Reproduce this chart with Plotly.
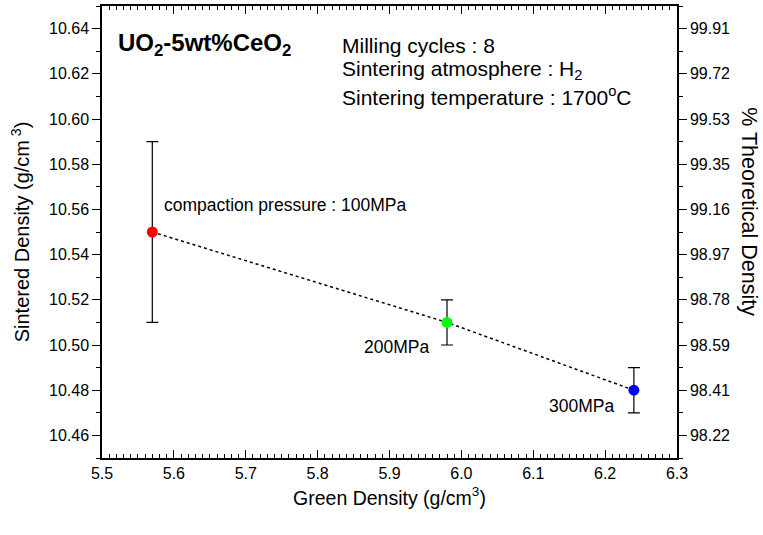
import plotly.graph_objects as go

green_density = [5.57, 5.98, 6.24]
sintered_density = [10.55, 10.51, 10.48]
err_plus = [0.04, 0.01, 0.01]
err_minus = [0.04, 0.01, 0.01]
point_colors = ["#ff0000", "#00ff00", "#0000ff"]
labels = ["compaction pressure : 100MPa", "200MPa", "300MPa"]

left_tickvals = [10.46, 10.48, 10.50, 10.52, 10.54, 10.56, 10.58, 10.60, 10.62, 10.64]
right_ticktext = ["98.22", "98.41", "98.59", "98.78", "98.97", "99.16", "99.35", "99.53", "99.72", "99.91"]
x_tickvals = [5.5, 5.6, 5.7, 5.8, 5.9, 6.0, 6.1, 6.2, 6.3]

FONT = "Arial, 'Liberation Sans', sans-serif"

fig = go.Figure()

# dotted connecting line
fig.add_trace(go.Scatter(
    x=green_density, y=sintered_density, mode="lines",
    line=dict(color="black", width=1.5, dash="dot"),
    showlegend=False, hoverinfo="skip"))

# points with error bars
for i in range(len(green_density)):
    fig.add_trace(go.Scatter(
        x=[green_density[i]], y=[sintered_density[i]], mode="markers",
        marker=dict(color=point_colors[i], size=11, line=dict(width=0)),
        error_y=dict(type="data", symmetric=False, array=[err_plus[i]],
                     arrayminus=[err_minus[i]], color="black", thickness=1.2, width=6),
        showlegend=False))

# dummy trace for right axis
fig.add_trace(go.Scatter(x=[None], y=[None], yaxis="y2", showlegend=False, hoverinfo="skip"))

# point labels
fig.add_annotation(x=5.583, y=10.562, text=labels[0], showarrow=False,
                   xanchor="left", yanchor="middle", font=dict(size=17.5, family=FONT, color="black"))
fig.add_annotation(x=5.958, y=10.499, text=labels[1], showarrow=False,
                   xanchor="right", yanchor="middle", font=dict(size=17.5, family=FONT, color="black"))
fig.add_annotation(x=6.215, y=10.473, text=labels[2], showarrow=False,
                   xanchor="right", yanchor="middle", font=dict(size=17.5, family=FONT, color="black"))

# title/info text
fig.add_annotation(x=5.52, y=10.633,
                   text="<b>UO<sub>2</sub>-5wt%CeO<sub>2</sub></b>", showarrow=False,
                   xanchor="left", yanchor="middle", font=dict(size=24, family=FONT, color="black"))
info = ["Milling cycles : 8", "Sintering atmosphere : H<sub>2</sub>",
        "Sintering temperature : 1700<sup>o</sup>C"]
info_y = [10.6325, 10.6215, 10.610]
for t, yy in zip(info, info_y):
    fig.add_annotation(x=5.831, y=yy, text=t, showarrow=False,
                       xanchor="left", yanchor="middle", font=dict(size=21, family=FONT, color="black"))

# right axis title (reads top-to-bottom)
fig.add_annotation(xref="paper", yref="paper", x=1.126, y=0.545, text="% Theoretical Density",
                   textangle=90, showarrow=False, xanchor="center", yanchor="middle",
                   font=dict(size=21.5, family=FONT, color="black"))

fig.update_layout(
    width=763, height=535,
    margin=dict(l=102, r=86, t=6, b=77),
    plot_bgcolor="white", paper_bgcolor="white",
    font=dict(family=FONT, color="black"),
    xaxis=dict(
        range=[5.5, 6.3], tickvals=x_tickvals, ticktext=[f"{v:.1f}" for v in x_tickvals],
        ticks="inside", ticklen=8, tickwidth=1.2, tickcolor="black",
        minor=dict(dtick=0.01, ticks="inside", ticklen=4, tickwidth=1, tickcolor="black"),
        showline=True, linecolor="black", linewidth=1.5, mirror="ticks",
        showgrid=False, zeroline=False, automargin=False,
        tickfont=dict(size=16, family=FONT),
        title=dict(text="Green Density (g/cm<sup>3</sup>)", font=dict(size=19.5, family=FONT), standoff=10),
    ),
    yaxis=dict(
        range=[10.45, 10.65], tickvals=left_tickvals, ticktext=[f"{v:.2f}" for v in left_tickvals],
        ticks="outside", ticklen=8, tickwidth=1.2, tickcolor="black",
        minor=dict(dtick=0.01, tick0=10.45, ticks="outside", ticklen=4, tickwidth=1, tickcolor="black"),
        showline=True, linecolor="black", linewidth=1.5,
        showgrid=False, zeroline=False, automargin=False,
        tickfont=dict(size=16, family=FONT),
        title=dict(text="Sintered Density (g/cm<sup> 3</sup>)", font=dict(size=20, family=FONT), standoff=14),
    ),
    yaxis2=dict(
        overlaying="y", side="right", range=[10.45, 10.65],
        tickvals=left_tickvals, ticktext=right_ticktext,
        ticks="outside", ticklen=8, tickwidth=1.2, tickcolor="black",
        minor=dict(dtick=0.01, tick0=10.45, ticks="outside", ticklen=4, tickwidth=1, tickcolor="black"),
        showline=True, linecolor="black", linewidth=1.5,
        showgrid=False, zeroline=False, automargin=False,
        tickfont=dict(size=16, family=FONT),
    ),
)

fig.write_html("out.html", config={"displayModeBar": False},
               post_script="document.body.style.margin='0';")
